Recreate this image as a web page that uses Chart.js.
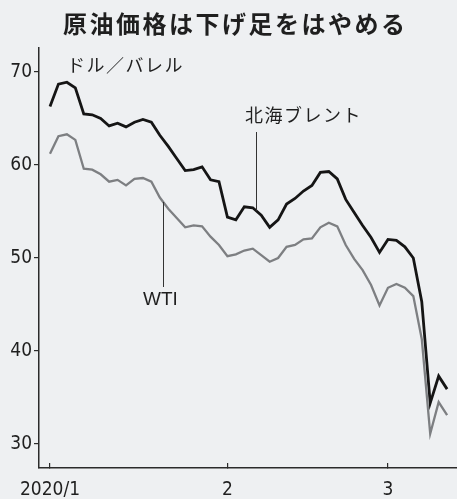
<!DOCTYPE html>
<html lang="ja">
<head>
<meta charset="utf-8">
<title>原油価格は下げ足をはやめる</title>
<script src="https://cdn.jsdelivr.net/npm/chart.js@4"></script>
<style>
  html, body { margin: 0; padding: 0; background: #eef0f2; }
  #wrap { width: 457px; height: 499px; }
</style>
</head>
<body>
<div id="wrap"><canvas id="chart" width="457" height="499"></canvas></div>
<script>
// ── Data: daily closes on trading days, $/barrel ──
const dates = [
    '1/2', '1/3', '1/6', '1/7', '1/8', '1/9', '1/10', '1/13', '1/14', '1/15', '1/16', '1/17',
    '1/21', '1/22', '1/23', '1/24', '1/27', '1/28', '1/29', '1/30', '1/31',
    '2/3', '2/4', '2/5', '2/6', '2/7', '2/10', '2/11', '2/12', '2/13', '2/14',
    '2/18', '2/19', '2/20', '2/21', '2/24', '2/25', '2/26', '2/27', '2/28',
    '3/2', '3/3', '3/4', '3/5', '3/6', '3/9', '3/10', '3/11'
];
const brent = [
    66.3, 68.7, 68.9, 68.3, 65.5, 65.4, 65.0, 64.2, 64.5, 64.1, 64.6, 64.9,
    64.6, 63.2, 62.0, 60.7, 59.4, 59.5, 59.8, 58.4, 58.2,
    54.4, 54.1, 55.5, 55.4, 54.6, 53.3, 54.1, 55.8, 56.4, 57.2,
    57.8, 59.2, 59.3, 58.5, 56.3, 54.9, 53.5, 52.2, 50.6,
    52.0, 51.9, 51.2, 50.0, 45.3, 34.4, 37.3, 35.9
];
const wti = [
    61.2, 63.1, 63.3, 62.7, 59.6, 59.5, 59.0, 58.2, 58.4, 57.8, 58.5, 58.6,
    58.2, 56.5, 55.3, 54.3, 53.3, 53.5, 53.4, 52.3, 51.4,
    50.2, 50.4, 50.8, 51.0, 50.3, 49.6, 50.0, 51.2, 51.4, 52.0,
    52.1, 53.3, 53.8, 53.4, 51.4, 49.9, 48.7, 47.1, 44.9,
    46.8, 47.2, 46.8, 45.9, 41.3, 31.1, 34.5, 33.1
];
const yTicks = [30, 40, 50, 60, 70];
const xTickIndex = [0, 21, 40];
const xTickLabels = ['2020/1', '2', '3'];

const CJK = "'Noto Sans CJK JP', sans-serif";
const NARROW = "'Liberation Sans Narrow', 'DejaVu Sans Condensed', sans-serif";
const INK = '#1f1f1f';

// value on a series at a fractional index (for leader lines)
function valueAt(arr, t) {
    const i = Math.floor(t);
    return arr[i] + (arr[i + 1] - arr[i]) * (t - i);
}

// ── Titles, unit and series labels ──
const labelsPlugin = {
    id: 'labels',
    afterDraw(chart) {
        const ctx = chart.ctx;
        const xs = chart.scales.x, ys = chart.scales.y;
        ctx.save();
        ctx.fillStyle = INK;
        ctx.textBaseline = 'middle';

        ctx.font = "bold 24px " + CJK;
        ctx.letterSpacing = '2.5px';
        ctx.textAlign = 'left';
        ctx.fillText('原油価格は下げ足をはやめる', 63, 24);

        ctx.font = "18px " + CJK;
        ctx.letterSpacing = '1.5px';
        ctx.fillText('ドル／バレル', 67, 65);
        ctx.fillText('北海ブレント', 245, 115);

        ctx.letterSpacing = '0px';
        ctx.font = "19px 'Liberation Sans', sans-serif";
        ctx.fillText('WTI', 143, 300);

        // leader lines
        ctx.strokeStyle = '#333';
        ctx.lineWidth = 1;
        ctx.beginPath();
        const bx = Math.round(xs.getPixelForValue(24.4)) + 0.5;
        ctx.moveTo(bx, 132);
        ctx.lineTo(bx, ys.getPixelForValue(valueAt(brent, 24.4)));
        const wx = Math.round(xs.getPixelForValue(13.4)) + 0.5;
        ctx.moveTo(wx, ys.getPixelForValue(valueAt(wti, 13.4)));
        ctx.lineTo(wx, 287);
        ctx.stroke();
        ctx.restore();
    }
};

const ctx = document.getElementById('chart');
new Chart(ctx, {
    type: 'line',
    data: {
        datasets: [
            {
                label: 'WTI',
                data: wti.map((v, i) => ({ x: i, y: v })),
                borderColor: '#7d7f82',
                borderWidth: 2.3,
                pointRadius: 0,
                tension: 0,
            },
            {
                label: '北海ブレント',
                data: brent.map((v, i) => ({ x: i, y: v })),
                borderColor: '#151515',
                borderWidth: 2.8,
                pointRadius: 0,
                tension: 0,
            }
        ]
    },
    options: {
        responsive: false,
        animation: false,
        devicePixelRatio: 1,
        layout: { padding: { top: 48, right: 0, left: 0, bottom: 0 } },
        plugins: {
            legend: { display: false },
            tooltip: { enabled: false },
        },
        scales: {
            x: {
                type: 'linear',
                min: -1.3,
                max: 48.17,
                afterBuildTicks: s => { s.ticks = xTickIndex.map(v => ({ value: v })); },
                afterFit: s => { s.height = 31; },
                border: { display: true, color: '#2b2b2b', width: 1.5 },
                grid: { drawOnChartArea: false, drawTicks: true, tickLength: -5, color: '#2b2b2b', lineWidth: 1.2 },
                ticks: {
                    padding: 16,
                    maxRotation: 0,
                    color: INK,
                    font: { family: NARROW, size: 19 },
                    callback: (v) => xTickLabels[xTickIndex.indexOf(v)],
                }
            },
            y: {
                min: 27.42,
                max: 72.58,
                afterBuildTicks: s => { s.ticks = yTicks.map(v => ({ value: v })); },
                afterFit: s => { s.width = 39; },
                border: { display: true, color: '#2b2b2b', width: 1.5 },
                grid: { drawOnChartArea: false, drawTicks: true, tickLength: 5, color: '#2b2b2b', lineWidth: 1.2 },
                ticks: {
                    padding: 2,
                    color: INK,
                    font: { family: NARROW, size: 19 },
                }
            }
        }
    },
    plugins: [labelsPlugin]
});
</script>
</body>
</html>
